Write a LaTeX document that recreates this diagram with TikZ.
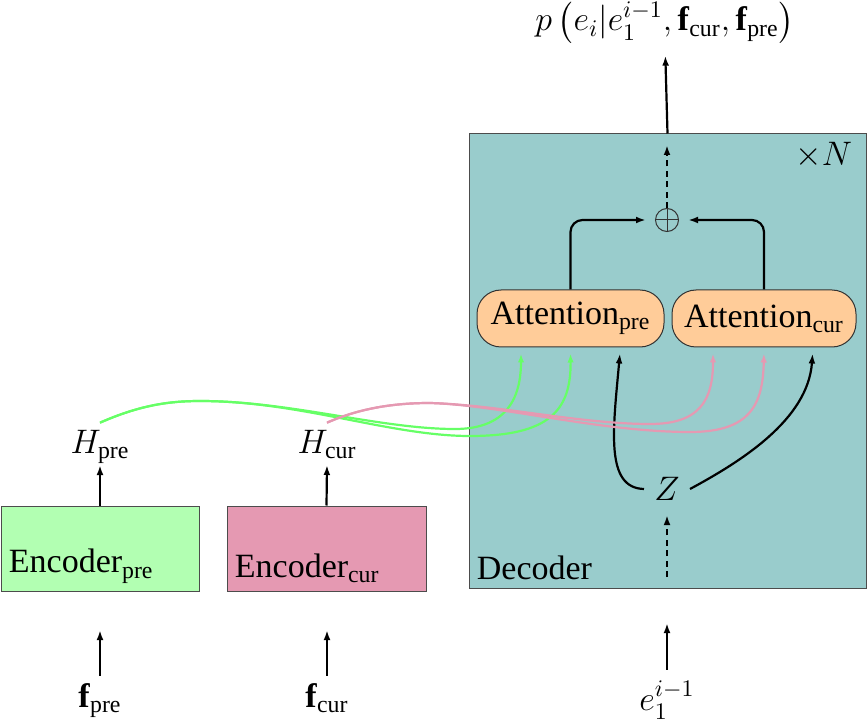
\RequirePackage{fix-cm}
\documentclass[tikz,border=0pt]{standalone}
\usepackage{amsmath}
\usepackage[no-math]{fontspec}
\setmainfont{Liberation Serif}
\usetikzlibrary{arrows.meta}
\newcommand{\fbold}{\text{\textbf{f}}}
\begin{document}
\begin{tikzpicture}[x=0.5pt,y=-0.5pt,
  every node/.style={font=\fontsize{17}{20}\selectfont},
  box/.style={draw=black!70, line width=0.5pt, inner sep=0pt},
  att/.style={draw=black!80, line width=0.5pt, fill=orange!40, rounded corners=12pt,
    minimum height=28.5pt, inner sep=0pt},
  arr/.style={-{Latex[length=5pt,width=3.4pt]}, line width=1.1pt},
  dasharr/.style={arr, dash pattern=on 3pt off 2.2pt},
  greenline/.style={draw=green!60, line width=1.1pt, -{Latex[length=4.5pt,width=3.2pt]}},
  pinkline/.style={draw=purple!40, line width=1.1pt, -{Latex[length=4.5pt,width=3.2pt]}},
  lbl/.style={anchor=south west, inner sep=4pt}
]
\useasboundingbox (0,0) rectangle (867,721);

% boxes
\node[box, fill=teal!40, minimum width=198.5pt, minimum height=227pt] (dec) at (667.5,361) {};
\node[lbl] (declab) at (dec.south west) {Decoder};
\node[anchor=north east, inner sep=4pt] (times) at ([xshift=-3pt]dec.north east) {$\times N$};

\node[box, fill=green!30, minimum width=99pt, minimum height=42.5pt] (encpre) at (100,548.5) {};
\node[lbl] (encprelab) at (encpre.south west) {Encoder$_{\text{pre}}$};
\node[box, fill=purple!40, minimum width=99.5pt, minimum height=42.5pt] (enccur) at (326.5,548.5) {};
\node[lbl] (enccurlab) at (enccur.south west) {Encoder$_{\text{cur}}$};

\node[att, minimum width=93.5pt] (attpre) at (570.5,318.5) {Attention$_{\text{pre}}$};
\node[att, minimum width=92pt] (attcur) at (764,318.5) {Attention$_{\text{cur}}$};

\node[circle, draw=black!80, line width=0.5pt, minimum size=11.5pt, inner sep=0pt,
  path picture={\draw[line width=0.5pt,black!80] (path picture bounding box.north) -- (path picture bounding box.south)
  (path picture bounding box.west) -- (path picture bounding box.east);}] (plus) at (667,220) {};

\node[inner sep=5pt] (Z) at (667,489) {$Z$};

% labels
\node[anchor=base, inner sep=0pt] (out) at (665,31) {$p\left(e_i|e_1^{i-1},\fbold_{\text{cur}},\fbold_{\text{pre}}\right)$};
\node[anchor=base] (e) at (667,710) {$e_1^{i-1}$};
\node[anchor=base] (fpre) at (100,707) {$\fbold_{\text{pre}}$};
\node[anchor=base] (fcur) at (327,707) {$\fbold_{\text{cur}}$};
\node[anchor=base] (Hpre) at (100,453) {$H_{\text{pre}}$};
\node[anchor=base] (Hcur) at (327,453) {$H_{\text{cur}}$};

\coordinate (dectop) at (667,145);
\coordinate (zin) at (667,577);
\coordinate (ein) at (667,623);
\coordinate (fprein) at (100,630);
\coordinate (fcurin) at (327,630);

% connectors
\draw[arr, shorten >=6pt] (dec.north) -- (out.south);
\draw[dasharr] (plus.north) -- (dectop);
\draw[arr, rounded corners=6pt, shorten >=4.5pt] (attpre.north) |- (plus.west);
\draw[arr, rounded corners=6pt, shorten >=4.5pt] (attcur.north) |- (plus.east);
\draw[dasharr, shorten >=2pt] (zin) -- (Z.south);
\draw[arr, shorten <=2pt] (e.north) -- (ein);
\draw[arr] (fpre.north) -- (fprein);
\draw[arr] (fcur.north) -- (fcurin);
\draw[arr] (encpre.north) -- ([yshift=-6pt]Hpre.base);
\draw[arr] (enccur.north) -- ([yshift=-6pt]Hcur.base);

\draw[arr, shorten >=3pt] (Z.west) .. controls (605,488) and (613,430) .. ([xshift=25pt]attpre.south);
\draw[arr, shorten >=3pt] (Z.east) .. controls (740,462) and (808,420) .. ([xshift=24.5pt]attcur.south);

% green curves
\draw[greenline, shorten >=3pt] (Hpre.north) .. controls (140,405) and (170,401) .. (200,401)
  .. controls (290,401) and (380,429) .. (455,429)
  .. controls (505,429) and (521,400) .. ([xshift=-24.75pt]attpre.south);
\draw[greenline, shorten >=3pt] (Hpre.north) .. controls (140,405) and (170,401) .. (200,401)
  .. controls (300,401) and (390,436) .. (470,436)
  .. controls (550,436) and (571,410) .. (attpre.south);
% pink curves
\draw[pinkline, shorten >=3pt] (Hcur.north) .. controls (360,408) and (395,403) .. (430,403)
  .. controls (500,405) and (580,424) .. (650,424)
  .. controls (700,424) and (713,400) .. ([xshift=-25.5pt]attcur.south);
\draw[pinkline, shorten >=3pt] (Hcur.north) .. controls (360,408) and (395,403) .. (430,403)
  .. controls (500,405) and (600,432) .. (690,432)
  .. controls (750,432) and (763,405) .. (attcur.south);
\end{tikzpicture}
\end{document}
